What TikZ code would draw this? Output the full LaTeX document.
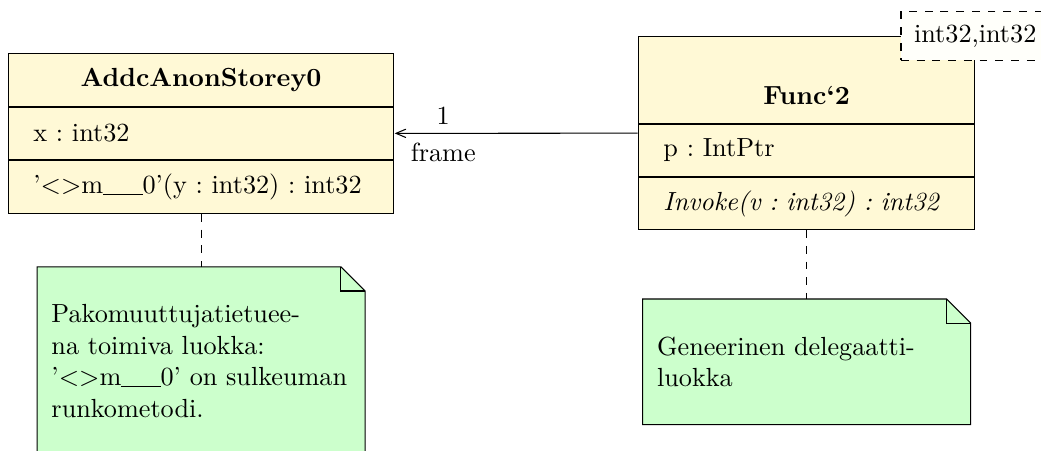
\documentclass[tikz,border=0pt]{standalone}
\usepackage{tikz}
\usetikzlibrary{shapes,arrows,positioning,fit,backgrounds}
\definecolor{classyellow}{RGB}{255, 249, 214}
\definecolor{notegreen}{RGB}{204, 255, 204}
\newcommand{\usc}{\rule[-0.6pt]{0.5em}{0.4pt}}
\tikzstyle{cname} = [draw, fill=classyellow, align=center, font=\bfseries, inner xsep=9.5pt, inner ysep=0pt]
\tikzstyle{cpart} = [draw, fill=classyellow, align=left, inner xsep=9.5pt, inner ysep=0pt, minimum height=19.85pt]
\tikzstyle{notetext} = [align=left, text width=114.2pt, inner xsep=5.3pt, inner ysep=14.2pt]
\tikzstyle{notebody} = [draw, fill=notegreen]
\tikzstyle{tagbox} = [draw, dashed, fill=yellow!2, inner xsep=5pt, inner ysep=0pt, minimum height=18.7pt]
\tikzstyle{assoc}  = [draw, >=angle 45, ->]
\tikzstyle{noteline} = [draw, dashed]
% folded-corner outline behind a note node
\newcommand{\foldnote}[1]{
  \path[notebody] (#1.north west) -- ([xshift=-9.2pt]#1.north east) -- ([yshift=-9.2pt]#1.north east) -- (#1.south east) -- (#1.south west) -- cycle;
  \draw ([xshift=-9.2pt]#1.north east) |- ([yshift=-9.2pt]#1.north east);
}

\begin{document}
\frenchspacing
\begin{tikzpicture}
\useasboundingbox (-3.05pt,20.23pt) rectangle ++(397.35pt,-171.77pt);

% classes =============================
\node[cname, minimum width=147pt, minimum height=20.2pt, anchor=north west] (storeyName) at (0,0) {AddcAnonStorey0};
\node[cpart, text width=128pt, below=0pt of storeyName] (storeyAttr) {x : int32};
\node[cpart, text width=128pt, minimum height=20.2pt, below=0pt of storeyAttr] (storeyOps) {\mbox{'<>m\usc\usc\usc0'(y : int32) : int32}};

\node[cname, minimum width=128.3pt, minimum height=33.2pt, text height=20pt, text depth=1.3pt, anchor=north west] (funcName) at ([xshift=93.1pt, yshift=6.5pt]storeyName.north east) {Func`2};
\node[cpart, text width=109.3pt, below=0pt of funcName] (funcAttr) {p : IntPtr};
\node[cpart, text width=109.3pt, below=0pt of funcAttr] (funcOps) {\textit{Invoke(v : int32) : int32}};
\node[tagbox] (funcArgs) at (funcName.north east) {int32,int32};

\node[fit=(storeyName)(storeyOps), inner sep=0pt] (storey) {};
\node[fit=(funcName)(funcOps), inner sep=0pt] (func) {};

% notes
\node[notetext, below=20.2pt of storeyOps] (storeyNote) {Pakomuuttujatietuee-\\na toimiva luokka:\\\mbox{'<>m\usc\usc\usc0' on sulkeuman}\\runkometodi.};
\node[notetext, below=26.3pt of funcOps] (funcNote) {Geneerinen delegaatti-\\luokka};

\begin{scope}[on background layer]
\foldnote{storeyNote}
\foldnote{funcNote}
\end{scope}

% edges
\path[assoc] (func) edge node[above, pos=0.8] {1} node[below, pos=0.8] {frame} (storey);
\path[noteline] (storeyOps) -- (storeyNote);
\path[noteline] (funcOps) -- (funcNote);

\end{tikzpicture}
\end{document}
